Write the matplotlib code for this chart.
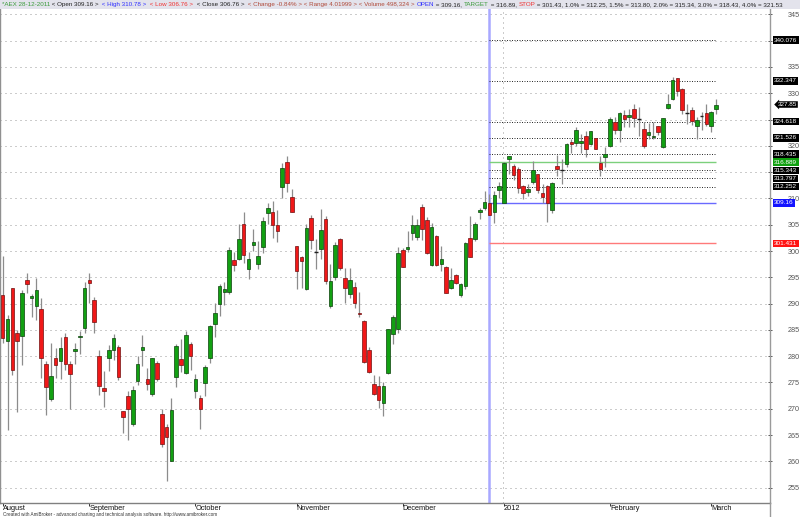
import numpy as np
import matplotlib.pyplot as plt
import matplotlib.transforms as mtransforms
from matplotlib import font_manager
from matplotlib.patches import Rectangle
from matplotlib.lines import Line2D

plt.rcParams["font.family"] = ["Liberation Sans", "DejaVu Sans"]
plt.rcParams["text.parse_math"] = False

# daily AEX bars, 8 Aug 2011 .. 2 Mar 2012
opens = [291.6, 282.9, 292.9, 284.5, 283.9, 294.4, 291.1, 289.6, 288.9, 278.5,
         271.8, 279.6, 279.0, 283.6, 278.5, 280.9, 283.7, 285.3, 294.4, 290.6,
         280.1, 273.9, 279.6, 281.1, 281.7, 269.5, 272.5, 267.1, 275.2, 281.2,
         275.6, 272.8, 278.7, 269.1, 266.5, 260.1, 276.1, 279.4, 276.8, 282.4,
         273.4, 272.1, 274.9, 279.7, 286.2, 289.9, 292.3, 292.2, 298.2, 298.5,
         305.2, 296.5, 301.1, 297.6, 300.8, 307.2, 307.4, 304.9, 312.1, 317.0,
         310.3, 301.0, 298.9, 292.7, 306.3, 299.8, 300.3, 306.0, 289.5, 295.1,
         302.3, 294.8, 291.9, 293.2, 288.3, 286.7, 281.1, 274.7, 274.4, 271.1,
         276.8, 284.2, 285.2, 300.1, 300.4, 303.4, 302.6, 308.3, 305.9, 297.4,
         302.9, 297.5, 297.0, 292.9, 295.4, 291.6, 293.3, 302.4, 302.3, 307.4,
         308.1, 309.16, 307.5, 311.6, 309.2, 317.5, 316.2, 315.6, 312.4, 311.3,
         313.2, 314.6, 311.1, 312.4, 307.8, 316.2, 315.4, 316.6, 320.8, 320.6,
         320.6, 321.9, 320.4, 321.4, 316.8, 317.8, 320.0, 324.6, 323.0, 325.9,
         325.5, 327.0, 325.1, 323.2, 322.1, 321.6, 323.7, 319.8, 327.2, 328.9,
         332.8, 330.8, 326.2, 326.8, 323.8, 325.7, 326.3, 323.8, 327.0]
highs = [299.0, 287.8, 293.0, 285.0, 292.5, 295.9, 291.9, 294.8, 291.0, 279.0,
         282.5, 281.5, 283.6, 284.5, 279.0, 282.5, 284.7, 294.2, 295.8, 291.3,
         281.2, 277.2, 282.2, 284.2, 282.2, 269.6, 273.3, 274.4, 280.1, 284.1,
         277.7, 279.7, 279.0, 269.9, 267.1, 272.1, 282.4, 283.2, 284.8, 282.7,
         276.7, 272.6, 278.3, 285.9, 290.1, 293.8, 294.1, 300.8, 299.8, 305.1,
         307.4, 299.8, 304.1, 301.9, 306.5, 309.1, 309.6, 307.8, 316.8, 318.1,
         311.8, 301.0, 299.0, 305.2, 306.9, 302.3, 308.0, 306.6, 297.5, 301.7,
         302.5, 296.8, 296.8, 294.1, 292.2, 286.8, 281.7, 276.5, 276.3, 275.0,
         285.2, 287.8, 300.8, 300.6, 303.8, 306.8, 306.1, 309.0, 306.4, 305.3,
         303.0, 301.0, 297.1, 296.7, 295.7, 293.9, 301.7, 306.7, 305.6, 308.2,
         311.5, 310.78, 311.4, 313.2, 316.9, 318.1, 316.5, 315.9, 312.5, 312.7,
         317.2, 314.7, 312.8, 312.5, 313.1, 318.2, 317.5, 320.5, 321.2, 323.6,
         322.3, 322.8, 322.9, 321.5, 318.1, 319.8, 325.5, 325.5, 326.5, 326.8,
         327.0, 327.9, 327.3, 324.6, 324.4, 324.6, 323.8, 325.3, 329.9, 333.0,
         332.9, 330.9, 328.0, 327.3, 325.4, 326.5, 328.0, 326.6, 328.9]
lows = [282.5, 266.0, 276.5, 269.3, 278.4, 292.0, 287.5, 286.9, 275.8, 268.8,
        271.5, 275.8, 275.6, 277.4, 269.9, 278.5, 280.4, 284.4, 290.1, 284.4,
        272.7, 270.4, 277.1, 279.3, 275.5, 265.4, 264.1, 266.8, 274.6, 278.2,
        273.6, 272.4, 275.3, 262.8, 256.3, 260.1, 274.2, 277.0, 276.7, 277.3,
        272.0, 266.1, 272.4, 278.7, 283.7, 287.7, 289.7, 291.8, 296.2, 298.2,
        297.7, 294.6, 300.0, 296.5, 299.6, 305.2, 302.5, 301.7, 310.0, 311.2,
        307.5, 292.7, 293.0, 292.6, 300.3, 296.5, 298.4, 293.7, 289.2, 294.4,
        296.3, 290.2, 291.0, 289.1, 287.5, 278.8, 276.8, 272.7, 270.2, 268.7,
        276.7, 282.3, 284.4, 296.9, 299.8, 302.0, 302.0, 302.0, 299.4, 297.2,
        297.2, 296.2, 292.0, 292.7, 293.8, 291.2, 292.7, 298.8, 301.9, 306.1,
        307.7, 306.76, 305.4, 310.0, 309.1, 314.6, 313.5, 311.0, 309.9, 310.5,
        312.7, 311.1, 309.2, 305.6, 307.3, 314.2, 312.7, 315.9, 318.7, 320.0,
        318.7, 317.8, 320.2, 319.3, 314.3, 316.0, 319.8, 322.2, 320.8, 323.5,
        323.5, 323.5, 321.9, 319.6, 321.3, 321.3, 322.1, 319.6, 327.0, 328.8,
        329.5, 326.0, 324.2, 324.0, 321.3, 323.0, 323.8, 322.7, 326.1]
closes = [283.4, 287.0, 277.4, 282.8, 292.0, 293.7, 291.5, 292.6, 279.6, 274.2,
          276.3, 278.4, 281.5, 278.5, 276.6, 281.3, 283.9, 292.9, 294.0, 286.5,
          274.4, 273.3, 281.2, 283.4, 276.0, 268.5, 270.0, 273.6, 278.5, 281.7,
          274.7, 279.6, 275.6, 263.3, 264.7, 269.7, 282.0, 278.3, 284.0, 280.1,
          275.6, 269.9, 278.0, 285.8, 288.3, 293.3, 292.8, 300.1, 297.4, 302.3,
          299.2, 298.5, 301.7, 299.0, 305.7, 308.2, 304.9, 303.8, 315.8, 312.9,
          307.5, 296.2, 298.1, 304.4, 302.0, 299.8, 303.9, 294.3, 294.3, 301.1,
          296.8, 292.9, 294.4, 290.2, 288.0, 278.9, 277.0, 272.8, 271.6, 274.4,
          285.1, 287.5, 299.7, 297.0, 300.7, 305.0, 304.9, 304.2, 299.7, 304.5,
          297.4, 298.4, 292.1, 294.4, 294.0, 293.8, 301.6, 298.9, 305.1, 307.8,
          309.4, 306.76, 310.6, 312.4, 316.8, 318.0, 314.5, 311.9, 311.1, 311.8,
          315.4, 311.6, 310.2, 309.2, 313.0, 315.6, 315.4, 320.4, 320.3, 323.0,
          321.0, 319.4, 322.8, 319.4, 315.6, 318.4, 325.1, 323.0, 326.3, 325.1,
          325.9, 325.3, 325.1, 320.0, 322.7, 321.9, 322.7, 325.2, 328.0, 332.5,
          330.4, 326.8, 326.2, 324.7, 324.9, 325.7, 324.2, 326.5, 327.85]

month_labels = ["August", "September", "October", "November", "December",
                "2012", "February", "March"]
month_bars = [0, 18, 40, 61, 83, 104, 126, 147]

sel_bar = 101                 # 28-12-2011
entry, target, stop = 309.16, 316.889, 301.431
levels = [340.076, 332.347, 324.618, 321.526, 318.435, 315.343, 313.797, 312.252]
level_text = ["340.076", "332.347", "324.618", "321.526", "318.435",
              "315.343", "313.797", "312.252"]
last_close = 327.85

header = [
    ("*AEX 28-12-2011", "#3c9c3c"),
    (" < Open 309.16 > ", "#202020"),
    (" < High 310.78 > ", "#2f2fff"),
    (" < Low 306.76 > ", "#f03030"),
    (" < Close 306.76 > ", "#202020"),
    (" < Change -0.84% > < Range 4.01999 > < Volume 498,324 > ", "#b04a3a"),
    ("OPEN", "#2f2fff"),
    (" = 309.16, ", "#202020"),
    ("TARGET", "#3c9c3c"),
    (" = 316.89, ", "#202020"),
    ("STOP", "#f03030"),
    (" = 301.43, 1.0% = 312.25, 1.5% = 313.80, 2.0% = 315.34, 3.0% = 318.43, 4.0% = 321.53",
     "#202020"),
]

installed = {f.name for f in font_manager.fontManager.ttflist}
if "Liberation Sans Narrow" in installed:
    head_font, head_size = ["Liberation Sans Narrow", "Liberation Sans"], 5.5
else:
    head_font, head_size = ["Liberation Sans", "DejaVu Sans"], 4.5

W, H = 800, 517
fig = plt.figure(figsize=(W / 100, H / 100), dpi=100)
ax = fig.add_axes([0, 14 / H, 770 / W, 503 / H])
ax.set_xlim(-0.56, 159.2)
ax.set_ylim(252.09, 347.72)

o, h, l, c = (np.array(a) for a in (opens, highs, lows, closes))
x = np.arange(len(o))

# grid
for v in range(255, 346, 5):
    ax.axhline(v, color="#9a9a9a", lw=0.72, ls=(0, (1, 4)), zorder=1)
ax.axvline(103.9, color="#9a9a9a", lw=0.72, ls=(0, (1, 4)), zorder=1)

# selected bar
ax.axvline(sel_bar, color="#a8a8ff", lw=1.8, zorder=2)

# candles
ax.vlines(x, l, h, color="#8c8c8c", lw=0.9, zorder=3)
up = c > o
dn = c < o
fl = c == o
ax.bar(x[up], (c - o)[up], bottom=o[up], width=0.74, color="#12a012",
       edgecolor="#0b400b", lw=0.5, zorder=4)
ax.bar(x[dn], (o - c)[dn], bottom=c[dn], width=0.74, color="#f01818",
       edgecolor="#701010", lw=0.5, zorder=4)
ax.hlines(o[fl], x[fl] - 0.4, x[fl] + 0.4, color="#202020", lw=1.0, zorder=4)

# trade levels
last = len(o) - 1
for v in levels:
    ax.hlines(v, sel_bar, last, color="#303030", lw=0.72, ls=(0, (1, 1.5)), zorder=2)
ax.hlines(target, sel_bar, last, color="#7cd07c", lw=1.0, zorder=2)
ax.hlines(entry, sel_bar, last, color="#6a6aff", lw=1.0, zorder=2)
ax.hlines(stop, sel_bar, last, color="#ff7a7a", lw=1.0, zorder=2)

# axes look
ax.spines["top"].set_visible(False)
ax.spines["left"].set_color("#909090")
ax.spines["bottom"].set_color("#808080")
ax.spines["right"].set_color("#9a9a9a")
for s in ("left", "bottom", "right"):
    ax.spines[s].set_linewidth(1.0)

yt = list(range(255, 346, 5))
ax.yaxis.tick_right()
ax.set_yticks(yt, ["" if v in (315, 325, 340) else str(v) for v in yt])
ax.tick_params(axis="y", direction="inout", length=3, width=0.7, color="#555555",
               labelsize=5.2, labelcolor="#555555", pad=11)
ax.set_xticks(month_bars, month_labels)
ax.tick_params(axis="x", direction="out", length=2.5, width=0.7, color="#333333",
               labelsize=5.3, labelcolor="#111111", pad=-1.3)
for lbl in ax.get_xticklabels():
    lbl.set_horizontalalignment("left")

# value tags on the price axis
tr = mtransforms.blended_transform_factory(ax.transAxes, ax.transData)
tags = list(zip(levels, level_text, ["black"] * len(levels)))
tags += [(target, "316.889", "#10a010"), (entry, "309.16", "#1414ff"),
         (stop, "301.431", "#ff1414")]
for v, s, col in tags:
    ax.text(1.0055, v, s, transform=tr, fontsize=4.6, color="white", va="center",
            ha="left", clip_on=False, zorder=20,
            bbox=dict(boxstyle="square,pad=0.2", fc=col, ec="none"))
ax.text(1.010, last_close, f"{last_close:.2f}", transform=tr, fontsize=4.6,
        color="white", va="center", ha="left", clip_on=False, zorder=20,
        bbox=dict(boxstyle="larrow,pad=0.12", fc="black", ec="none"))

# header strip
ax.add_patch(Rectangle((0, 1 - 9 / H), 1, 9 / H, transform=fig.transFigure,
                       fc="#e3e3ec", ec="none", clip_on=False, zorder=30))
prev = ax.text(2 / W, 1 - 4.5 / H, header[0][0], transform=fig.transFigure,
               fontsize=head_size, family=head_font, color=header[0][1],
               va="center", ha="left", clip_on=False, zorder=31)
for s, col in header[1:]:
    prev = ax.annotate(s, xy=(1, 0.5), xycoords=prev, fontsize=head_size,
                       family=head_font, color=col, va="center", ha="left",
                       annotation_clip=False, zorder=31)

fig.text(3 / W, 2.2 / H, "Created with AmiBroker - advanced charting and technical "
         "analysis software. http://www.amibroker.com", fontsize=3.3,
         color="#333333", va="center", ha="left")
fig.add_artist(Line2D([770 / W, 770 / W], [0, 14 / H], color="#9a9a9a", lw=1.0))

fig.savefig("out.png", dpi=100)
